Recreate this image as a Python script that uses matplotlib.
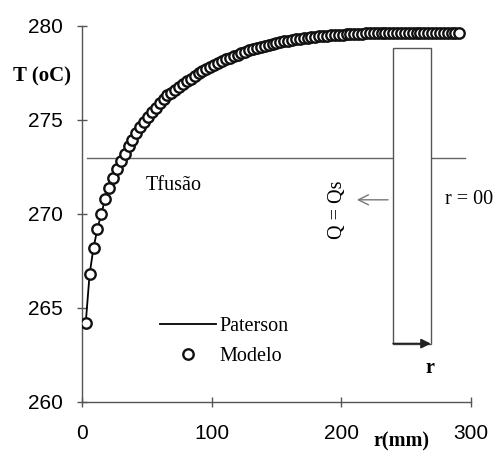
import matplotlib
matplotlib.use("Agg")
import matplotlib.pyplot as plt
from matplotlib.patches import Rectangle

# radial position (mm) and temperature (oC)
r_mm = [3, 6, 9, 12, 15, 18, 21, 24, 27, 30, 33, 36, 39, 42, 45, 48, 51, 54, 57, 60,
        63, 66, 69, 72, 75, 78, 81, 84, 87, 90, 93, 96, 99, 102, 105, 108, 111, 114,
        117, 120, 123, 126, 129, 132, 135, 138, 141, 144, 147, 150, 153, 156, 159,
        162, 165, 168, 171, 174, 177, 180, 183, 186, 189, 192, 195, 198, 201, 204,
        207, 210, 213, 216, 219, 222, 225, 228, 231, 234, 237, 240, 243, 246, 249,
        252, 255, 258, 261, 264, 267, 270, 273, 276, 279, 282, 285, 288, 291]
t_modelo = [264.2, 266.8, 268.2, 269.2, 270.0, 270.8, 271.4, 271.9, 272.4, 272.8,
            273.2, 273.6, 273.95, 274.3, 274.6, 274.9, 275.15, 275.4, 275.65, 275.9,
            276.1, 276.3, 276.45, 276.6, 276.75, 276.9, 277.05, 277.2, 277.35, 277.48,
            277.6, 277.72, 277.83, 277.94, 278.04, 278.14, 278.23, 278.32, 278.4, 278.48,
            278.56, 278.63, 278.7, 278.77, 278.83, 278.89, 278.95, 279.0, 279.05, 279.1,
            279.14, 279.18, 279.22, 279.25, 279.28, 279.31, 279.34, 279.37, 279.39, 279.42,
            279.44, 279.46, 279.48, 279.5, 279.51, 279.53, 279.54, 279.55, 279.56, 279.57,
            279.58, 279.59, 279.6, 279.61, 279.62, 279.62, 279.63, 279.63, 279.64, 279.64,
            279.64, 279.64, 279.65, 279.65, 279.65, 279.65, 279.65, 279.65, 279.65, 279.65,
            279.65, 279.65, 279.65, 279.65, 279.65, 279.65, 279.65]
t_paterson = list(t_modelo)  # analytic curve lies on the model points

t_fusao = 273.0
x_ticks = [0, 100, 200, 300]
y_ticks = [260, 265, 270, 275, 280]

serif = "Liberation Serif"
sans = "Liberation Sans"

fig = plt.figure(figsize=(4.99, 4.63), dpi=100)
ax = fig.add_axes([0.164, 0.132, 0.78, 0.812])

ax.plot(r_mm, t_paterson, color="black", lw=1.3, label="Paterson", zorder=4)
ax.plot(r_mm, t_modelo, ls="none", marker="o", ms=7.5, mfc="white", mec="#111111",
        mew=1.7, label="Modelo", zorder=5)

# melting temperature line
ax.plot([4, 295], [t_fusao, t_fusao], color="#666666", lw=1.0, zorder=1)
ax.text(49, 271.5, "Tfusão", family=serif, fontsize=14.5, ha="left", va="center")

# sketch of the slab on the right
ax.add_patch(Rectangle((240, 263.1), 29, 278.8 - 263.1, fc="white",
                       ec="#555555", lw=1.0, zorder=2))
ax.annotate("", xy=(269, 263.1), xytext=(240, 263.1),
            arrowprops=dict(arrowstyle="-|>", color="#222222", lw=1.3,
                            mutation_scale=14, shrinkA=0, shrinkB=0), zorder=3)
ax.annotate("", xy=(212, 270.75), xytext=(236, 270.75),
            arrowprops=dict(arrowstyle="->", color="#777777", lw=1.0,
                            mutation_scale=18, shrinkA=0, shrinkB=0))
ax.text(197, 270.2, "Q = Qs", family=serif, fontsize=14.5, rotation=90,
        ha="center", va="center")
ax.text(280, 270.75, "r = 00", family=serif, fontsize=14.5, ha="left", va="center")
ax.text(268, 261.8, "r", family=serif, fontsize=14.5, fontweight="bold",
        ha="center", va="center")

ax.set_xlim(0, 300)
ax.set_ylim(260, 280)
ax.set_xticks(x_ticks)
ax.set_yticks(y_ticks)
for s in ["top", "right"]:
    ax.spines[s].set_visible(False)
for s in ["left", "bottom"]:
    ax.spines[s].set_color("#555555")
    ax.spines[s].set_linewidth(1.0)
ax.tick_params(direction="inout", length=7, width=1, color="#555555",
               labelsize=15)
ax.tick_params(axis="x", pad=12.5)
ax.tick_params(axis="y", pad=10)
for lab in ax.get_xticklabels() + ax.get_yticklabels():
    lab.set_family(sans)

ax.text(-31, 277.3, "T (oC)", family=serif, fontsize=15, fontweight="bold",
        ha="center", va="center", clip_on=False)
ax.text(246, 257.9, "r(mm)", family=serif, fontsize=14.5, fontweight="bold",
        ha="center", va="center", clip_on=False)

ax.legend(loc="center left", bbox_to_anchor=(0.2, 0.161), frameon=False,
          prop={"family": serif, "size": 14.5}, handlelength=2.8,
          handletextpad=0.15, labelspacing=0.55, borderpad=0, borderaxespad=0)

fig.savefig("out.png", dpi=100)
